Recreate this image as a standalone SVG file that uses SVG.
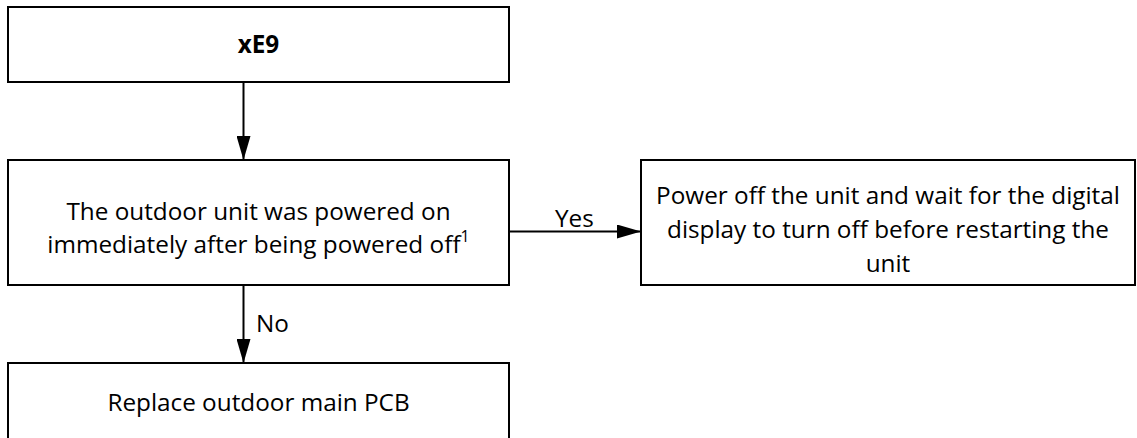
<svg xmlns="http://www.w3.org/2000/svg" width="1137" height="438" viewBox="0 0 1137 438">
<style>
.box{fill:#fff;stroke:#000;stroke-width:2}
.t{font-family:"Open Sans","Liberation Sans",sans-serif;font-size:24.3px;fill:#000;text-anchor:middle}
.b{font-weight:bold}
.lbl{font-family:"Open Sans","Liberation Sans",sans-serif;font-size:24.3px;fill:#000}
.ln{stroke:#000;stroke-width:2;fill:none}
</style>
<defs>
<marker id="ah" markerWidth="24" markerHeight="14" refX="24" refY="7" orient="auto" markerUnits="userSpaceOnUse">
<path d="M0,0 L24,7 L0,14 Z" fill="#000"/>
</marker>
</defs>
<rect width="1137" height="438" fill="#fff"/>
<g id="n1">
<rect class="box" x="8" y="7" width="501" height="75"/>
<text class="t b" x="258.5" y="53" font-size="22">xE9</text>
</g>
<g id="n2">
<rect class="box" x="8" y="160" width="501" height="125"/>
<text class="t" x="258.5" y="220">The outdoor unit was powered on</text>
<text class="t" x="258.5" y="253">immediately after being powered off<tspan font-size="16" dy="-11">1</tspan></text>
</g>
<g id="n3">
<rect class="box" x="641" y="160" width="494" height="125"/>
<text class="t" x="888" y="204">Power off the unit and wait for the digital</text>
<text class="t" x="888" y="238">display to turn off before restarting the</text>
<text class="t" x="888" y="272">unit</text>
</g>
<g id="n4">
<rect class="box" x="8" y="363" width="501" height="90"/>
<text class="t" x="258.5" y="411">Replace outdoor main PCB</text>
</g>
<g id="connectors">
<line class="ln" x1="243.5" y1="82" x2="243.5" y2="160" marker-end="url(#ah)"/>
<line class="ln" x1="509" y1="231.5" x2="641" y2="231.5" marker-end="url(#ah)"/>
<text class="lbl" x="555" y="227">Yes</text>
<line class="ln" x1="243.5" y1="285" x2="243.5" y2="363" marker-end="url(#ah)"/>
<text class="lbl" x="256" y="332">No</text>
</g>
</svg>
